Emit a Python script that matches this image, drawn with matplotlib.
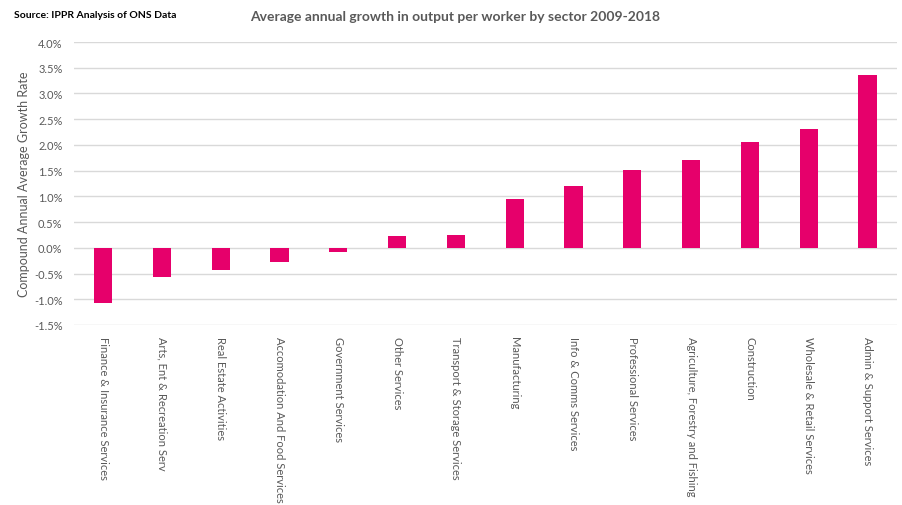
import numpy as np
import matplotlib
matplotlib.use("Agg")
from matplotlib import pyplot as plt
from matplotlib.ticker import FuncFormatter

sectors = ["Finance & Insurance Services", "Arts, Ent & Recreation Serv",
           "Real Estate Activities", "Accomodation And Food Services",
           "Government Services", "Other Services", "Transport & Storage Services",
           "Manufacturing", "Info & Comms Services", "Professional Services",
           "Agriculture, Forestry and Fishing", "Construction",
           "Wholesale & Retail Services", "Admin & Support Services"]
growth = [-1.075, -0.57, -0.44, -0.28, -0.09, 0.22, 0.24,
          0.95, 1.20, 1.51, 1.70, 2.05, 2.30, 3.36]
yticks = np.arange(-1.5, 4.01, 0.5)

plt.rcParams['font.family'] = ['Lato', 'DejaVu Sans']
grey = '#595959'

fig = plt.figure(figsize=(9.03, 5.06), dpi=100)
ax = fig.add_axes([73.6 / 903, 1 - 326 / 506, (897 - 73.6) / 903, (326 - 43) / 506])

x = np.arange(len(sectors))
ax.bar(x, growth, width=0.31, color='#e6006b', zorder=3)

ax.set_xlim(-0.5, len(sectors) - 0.5)
ax.set_ylim(-1.5, 4.0)
ax.set_yticks(yticks)
ax.yaxis.set_major_formatter(FuncFormatter(lambda v, p: "%.1f%%" % v))
ax.grid(axis='y', color='#d9d9d9', linewidth=1, zorder=0)
for s in ax.spines.values():
    s.set_visible(False)
ax.tick_params(axis='both', length=0, colors=grey, labelsize=8)
ax.tick_params(axis='y', pad=8)
ax.set_xticks(x)
ax.set_xticklabels(sectors, rotation=270, va='top', ha='center', fontsize=8, color=grey)
ax.tick_params(axis='x', pad=8)
ax.set_ylabel("Compound Annual Average Growth Rate", fontsize=9, color=grey, labelpad=3)

fig.text(14 / 903, 1 - 16 / 506, "Source: IPPR Analysis of ONS Data", fontsize=7.5,
         fontweight='bold', color='black', va='center', ha='left')
fig.text(455 / 903, 1 - 17 / 506, "Average annual growth in output per worker by sector 2009-2018",
         fontsize=10, fontweight='bold', color=grey, va='center', ha='center')

fig.savefig("out.png", dpi=100)
